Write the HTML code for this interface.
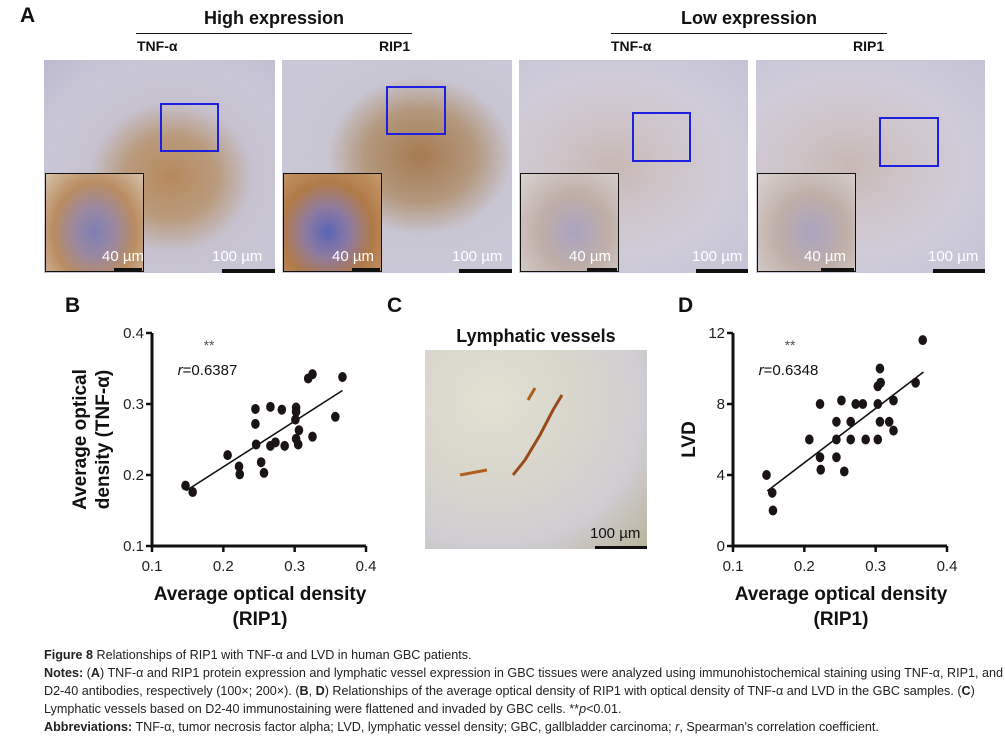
<!DOCTYPE html>
<html><head><meta charset="utf-8">
<style>
body{margin:0;width:1005px;height:737px;background:#fff;position:relative;overflow:hidden;font-family:"Liberation Sans",sans-serif;}
.abs{position:absolute}
.h{font-weight:bold;color:#111}
.img{position:absolute;overflow:hidden}
.hi{background:radial-gradient(ellipse at 55% 55%,#b78a5c 0%,#b99a7c 25%,#c6c1cf 45%,#c9c7d6 70%,#bdbad0 100%)}
.lo{background:radial-gradient(ellipse at 40% 50%,#c8b8b4 0%,#cfc6cc 35%,#cfcbd8 60%,#c4c3d6 100%)}
.inset{position:absolute;left:1px;bottom:1px;width:97px;height:97px;border:1.5px solid #111}
.ihi{background:radial-gradient(ellipse at 50% 60%,#7d7fb4 0%,#9b88a0 30%,#b98c62 60%,#d6c2a8 100%)}
.ilo{background:radial-gradient(ellipse at 55% 60%,#a9a3c0 0%,#bfaea8 45%,#d9d3d0 100%)}
.box{position:absolute;border:2px solid #1f1fe0}
.sb{position:absolute;color:#fff;font-size:15px}
.bar{position:absolute;height:4px;background:#111}
.cap{position:absolute;left:44px;font-size:12.6px;color:#222;font-family:"Liberation Sans",sans-serif;white-space:nowrap}
</style></head><body>
<div class="abs h" style="left:20px;top:4px;font-size:21px">A</div>
<div class="abs h" style="left:136px;width:276px;top:8px;text-align:center;font-size:18px">High expression</div>
<div class="abs" style="left:136px;width:276px;top:33px;height:1px;background:#111"></div>
<div class="abs h" style="left:611px;width:276px;top:8px;text-align:center;font-size:18px">Low expression</div>
<div class="abs" style="left:611px;width:276px;top:33px;height:1px;background:#111"></div>
<div class="abs h" style="left:137px;top:38px;font-size:14px">TNF-α</div>
<div class="abs h" style="left:379px;top:38px;font-size:14px">RIP1</div>
<div class="abs h" style="left:611px;top:38px;font-size:14px">TNF-α</div>
<div class="abs h" style="left:853px;top:38px;font-size:14px">RIP1</div>

<div class="img hi" style="left:44px;top:60px;width:231px;height:213px">
 <div class="box" style="left:116px;top:43px;width:55px;height:45px"></div>
 <div class="inset ihi"></div><div class="sb" style="left:58px;top:188px">40 µm</div><div class="bar" style="left:70px;top:208px;width:28px"></div>
 <div class="sb" style="left:168px;top:188px">100 µm</div><div class="bar" style="left:178px;top:209px;width:53px"></div>
</div>
<div class="img hi" style="left:282px;top:60px;width:230px;height:213px;background:radial-gradient(ellipse at 60% 45%,#a67a50 0%,#b3987e 28%,#c9c6d4 48%,#cbc9d8 100%)">
 <div class="box" style="left:104px;top:26px;width:56px;height:45px"></div>
 <div class="inset ihi" style="background:radial-gradient(ellipse at 45% 60%,#5a64b8 0%,#8e7aa0 30%,#b07a48 60%,#c79a6c 100%)"></div><div class="sb" style="left:50px;top:188px">40 µm</div><div class="bar" style="left:70px;top:208px;width:28px"></div>
 <div class="sb" style="left:170px;top:188px">100 µm</div><div class="bar" style="left:177px;top:209px;width:53px"></div>
</div>
<div class="img lo" style="left:519px;top:60px;width:229px;height:213px">
 <div class="box" style="left:113px;top:52px;width:55px;height:46px"></div>
 <div class="inset ilo"></div><div class="sb" style="left:50px;top:188px">40 µm</div><div class="bar" style="left:68px;top:208px;width:30px"></div>
 <div class="sb" style="left:173px;top:188px">100 µm</div><div class="bar" style="left:177px;top:209px;width:52px"></div>
</div>
<div class="img lo" style="left:756px;top:60px;width:229px;height:213px">
 <div class="box" style="left:123px;top:57px;width:56px;height:46px"></div>
 <div class="inset ilo"></div><div class="sb" style="left:48px;top:188px">40 µm</div><div class="bar" style="left:65px;top:208px;width:33px"></div>
 <div class="sb" style="left:172px;top:188px">100 µm</div><div class="bar" style="left:177px;top:209px;width:52px"></div>
</div>

<div class="abs h" style="left:65px;top:294px;font-size:21px">B</div>
<div class="abs h" style="left:387px;top:294px;font-size:21px">C</div>
<div class="abs h" style="left:678px;top:294px;font-size:21px">D</div>
<div class="abs h" style="left:425px;width:222px;top:326px;text-align:center;font-size:18px">Lymphatic vessels</div>
<div class="img" style="left:425px;top:350px;width:222px;height:199px;background:radial-gradient(ellipse at 30% 25%,#e2e0d2 0%,#d8d6cc 40%,#cfcdd2 70%,#b9b39a 100%)">
 <svg width="222" height="199" style="position:absolute;left:0;top:0"><path d="M88,125 L100,110 L115,85 L128,60 L137,45" stroke="#9a4a1a" stroke-width="3" fill="none"/><path d="M35,125 L62,120" stroke="#b0601e" stroke-width="3" fill="none"/><path d="M103,50 L110,38" stroke="#b0601e" stroke-width="3" fill="none"/></svg>
 <div class="sb" style="left:165px;top:175px;color:#111;font-size:15px">100 µm</div><div class="bar" style="left:170px;top:196px;width:52px;height:3px"></div>
</div>

<svg class="abs" style="left:0;top:0" width="1005" height="737" id="charts"></svg>

<div class="cap" style="top:648px"><b>Figure 8</b> Relationships of RIP1 with TNF-α and LVD in human GBC patients.</div>
<div class="cap" style="top:666px"><b>Notes:</b> (<b>A</b>) TNF-α and RIP1 protein expression and lymphatic vessel expression in GBC tissues were analyzed using immunohistochemical staining using TNF-α, RIP1, and</div>
<div class="cap" style="top:684px">D2-40 antibodies, respectively (100×; 200×). (<b>B</b>, <b>D</b>) Relationships of the average optical density of RIP1 with optical density of TNF-α and LVD in the GBC samples. (<b>C</b>)</div>
<div class="cap" style="top:702px">Lymphatic vessels based on D2-40 immunostaining were flattened and invaded by GBC cells. **<i>p</i>&lt;0.01.</div>
<div class="cap" style="top:720px"><b>Abbreviations:</b> TNF-α, tumor necrosis factor alpha; LVD, lymphatic vessel density; GBC, gallbladder carcinoma; <i>r</i>, Spearman's correlation coefficient.</div>

<script>
const ripB=[0.147,0.157,0.206,0.222,0.223,0.245,0.245,0.246,0.253,0.257,0.266,0.266,0.273,0.282,0.286,0.302,0.302,0.301,0.302,0.305,0.306,0.319,0.325,0.325,0.357,0.367];
const tnfB=[0.185,0.176,0.228,0.212,0.201,0.293,0.272,0.243,0.218,0.203,0.296,0.241,0.246,0.292,0.241,0.295,0.289,0.278,0.251,0.243,0.263,0.336,0.342,0.254,0.282,0.338];
const fitB=[[0.148,0.178],[0.367,0.319]];
const ripD=[0.147,0.155,0.156,0.207,0.222,0.222,0.223,0.245,0.245,0.245,0.252,0.256,0.265,0.265,0.272,0.282,0.286,0.303,0.303,0.303,0.306,0.307,0.306,0.319,0.325,0.325,0.356,0.366];
const lvdD=[4.0,3.0,2.0,6.0,8.0,5.0,4.3,7.0,6.0,5.0,8.2,4.2,7.0,6.0,8.0,8.0,6.0,6.0,8.0,9.0,10.0,9.2,7.0,7.0,8.2,6.5,9.2,11.6];
const fitD=[[0.148,3.1],[0.367,9.8]];
const xTicks=[0.1,0.2,0.3,0.4];
const yTicksB=[0.1,0.2,0.3,0.4];
const yTicksD=[0,4,8,12];
const NS='http://www.w3.org/2000/svg';
const svg=document.getElementById('charts');
function mk(t,a){const e=document.createElementNS(NS,t);for(const k in a)e.setAttribute(k,a[k]);svg.appendChild(e);return e;}
function chart(o){
 const sx=v=>o.x0+(v-o.xmin)/(o.xmax-o.xmin)*(o.x1-o.x0);
 const sy=v=>o.y0-(v-o.ymin)/(o.ymax-o.ymin)*(o.y0-o.y1);
 let e=mk('path',{d:`M${o.x0},${o.y1} V${o.y0} H${o.x1}`,stroke:'#111','stroke-width':3,fill:'none'});
 
 
 xTicks.forEach(t=>{
  const l=mk('line',{x1:sx(t),x2:sx(t),y1:o.y0,y2:o.y0+6,stroke:'#111','stroke-width':2.5});
  
  
  const tx=mk('text',{x:sx(t),y:o.y0+25,'text-anchor':'middle','font-size':15,fill:'#222'});tx.textContent=t.toFixed(1);
  
  
 });
 o.yt.forEach(t=>{
  const l=mk('line',{x1:o.x0-6,x2:o.x0,y1:sy(t),y2:sy(t),stroke:'#111','stroke-width':2.5});
  
  
  const tx=mk('text',{x:o.x0-8,y:sy(t)+5,'text-anchor':'end','font-size':15,fill:'#222'});tx.textContent=o.fmt(t);
  
  
 });
 const ln=mk('line',{x1:sx(o.fit[0][0]),y1:sy(o.fit[0][1]),x2:sx(o.fit[1][0]),y2:sy(o.fit[1][1]),stroke:'#111','stroke-width':1.6});
 
 
 o.xs.forEach((v,i)=>{
  const c=mk('ellipse',{cx:sx(v),cy:sy(o.ys[i]),rx:4.3,ry:5,fill:'#1a1416'});
  
  
 });
 let s=mk('text',{x:sx(0.18),y:o.y1+17,'font-size':14,fill:'#555','text-anchor':'middle'});s.textContent='**';
 
 
 let r=mk('text',{x:sx(0.136),y:o.y1+42,'font-size':15,fill:'#111'});r.innerHTML='<tspan font-style="italic">r</tspan>='+o.r;
 
 
 const cx=(o.x0+o.x1)/2;
 let a=mk('text',{x:cx+1,y:o.y0+54,'text-anchor':'middle','font-size':19,'font-weight':'bold',fill:'#111'});a.textContent='Average optical density';
 
 
 let b=mk('text',{x:cx+1,y:o.y0+79,'text-anchor':'middle','font-size':19,'font-weight':'bold',fill:'#111'});b.textContent='(RIP1)';
 
 
 o.yl.forEach((t,i)=>{
  const yy=(o.y0+o.y1)/2;const xx=o.ylx+i*23;
  const q=mk('text',{x:xx,y:yy,'text-anchor':'middle','font-size':19,'font-weight':'bold',fill:'#111',transform:`rotate(-90 ${xx} ${yy})`});q.textContent=t;
  
  
 });
}
chart({id:'chart-b',x0:152,x1:366,y0:546,y1:333,xmin:0.1,xmax:0.4,ymin:0.1,ymax:0.4,xs:ripB,ys:tnfB,fit:fitB,yt:yTicksB,fmt:t=>t.toFixed(1),r:'0.6387',yl:['Average optical','density (TNF-α)'],ylx:86});
chart({id:'chart-d',x0:733,x1:947,y0:546,y1:333,xmin:0.1,xmax:0.4,ymin:0,ymax:12,xs:ripD,ys:lvdD,fit:fitD,yt:yTicksD,fmt:t=>String(t),r:'0.6348',yl:['LVD'],ylx:695});
</script>
</body></html>
